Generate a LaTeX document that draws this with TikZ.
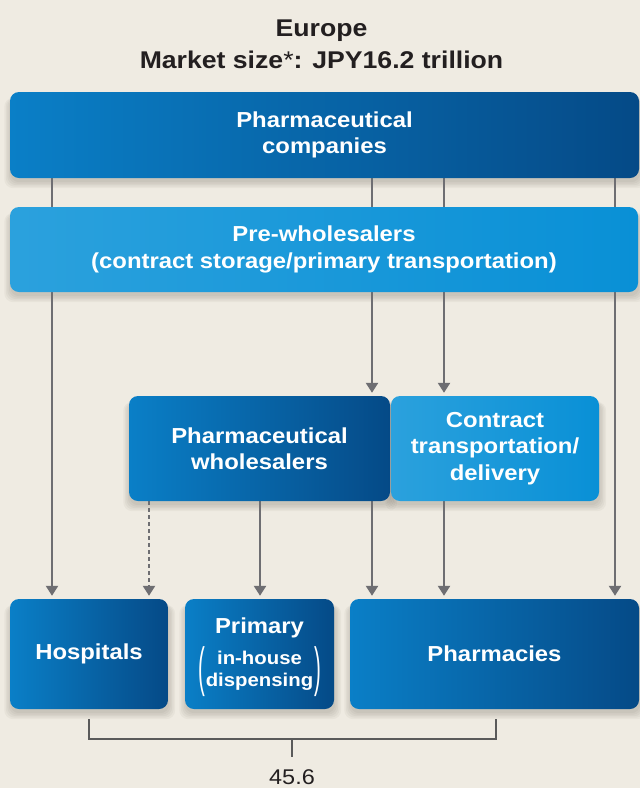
\documentclass[tikz,border=0pt]{standalone}
\usepackage{fontspec}
\usepackage{graphicx}
\setmainfont{Liberation Sans}[FakeStretch=1.1]
\usetikzlibrary{arrows.meta}

\definecolor{paper}{RGB}{239,235,226}
\definecolor{ink}{RGB}{35,31,32}
\definecolor{deepL}{RGB}{10,127,199}
\definecolor{deepR}{RGB}{5,74,135}
\definecolor{paleL}{RGB}{43,161,221}
\definecolor{paleR}{RGB}{9,144,214}
\definecolor{linkgray}{RGB}{110,110,114}
\definecolor{bracegray}{RGB}{90,90,90}
\definecolor{shadecol}{RGB}{60,50,40}

\pgfdeclarelayer{bg}
\pgfdeclarelayer{shade}
\pgfdeclarelayer{links}
\pgfsetlayers{bg,shade,links,main}

% tall thin parenthesis for the bracketed sub-label
\newcommand{\tallparen}[1]{\raisebox{-9.6pt}{\scalebox{1}[2.9]{\mdseries #1}}}

% soft shadow under a named box, built from widening translucent layers
\newcommand{\softshadow}[1]{%
  \begin{pgfonlayer}{shade}
    \foreach \k in {0,3,6,9,12}{
      \fill[shadecol, opacity=0.045, rounded corners=9pt]
        ([xshift={-0.5*\k*1pt+0.5pt}, yshift={-4pt-0.5*\k*1pt}]#1.south west)
        rectangle ([xshift={0.5*\k*1pt+1pt}, yshift=-6pt]#1.north east);
    }
  \end{pgfonlayer}}

\begin{document}
\begin{tikzpicture}[x=1pt,y=-1pt,
  box/.style={rounded corners=9pt, inner sep=0pt, align=center, text=white,
    font=\bfseries\fontsize{21.7}{26.5}\selectfont},
  deep/.style={box, left color=deepL, right color=deepR},
  pale/.style={box, left color=paleL, right color=paleR},
  link/.style={draw=linkgray, line width=2.4pt, -{Triangle[length=10pt,width=12pt]}, shorten >=3pt},
  dlink/.style={link, dash pattern=on 4pt off 3pt},
  brace/.style={draw=bracegray, line width=1.2pt},
  title/.style={font=\bfseries\fontsize{24.2}{32}\selectfont, text=ink, align=center}]

\begin{pgfonlayer}{bg}
  \fill[paper] (0,0) rectangle (640,788);
\end{pgfonlayer}
\useasboundingbox (0,0) rectangle (640,788);

% heading
\node[title] (head) at (321.5,44) {Europe\\Market size{\mdseries*}: JPY16.2 trillion};

% supply side
\node[deep, minimum width=629, minimum height=86] (comp) at (324.5,135) {Pharmaceutical\\companies};
\node[pale, minimum width=628, minimum height=85] (pre) at (324,249.5) {Pre-wholesalers\\(contract storage/primary transportation)};

% intermediaries
\node[deep, minimum width=261, minimum height=105] (whol) at (259.5,448.5) {Pharmaceutical\\wholesalers};
\node[pale, minimum width=208, minimum height=105] (contr) at (495,448.5) {Contract\\transportation/\\delivery};

% dispensing points
\node[deep, minimum width=158, minimum height=110] (hosp) at (89,654) {Hospitals};
\node[deep, minimum width=149, minimum height=110] (prim) at (259.5,654) {};
\node[align=center, text=white, inner sep=0pt, font=\bfseries\fontsize{21.7}{26.5}\selectfont] (primtxt) at (259.5,657)
  {Primary\\[8pt]{\fontsize{18.5}{22}\selectfont\tallparen{(}\hspace{1pt}\begin{tabular}[c]{@{}c@{}}in-house\\dispensing\end{tabular}\hspace{1pt}\tallparen{)}}};
\node[deep, minimum width=289, minimum height=110] (pharm) at (494.5,654) {Pharmacies};

\softshadow{comp}
\softshadow{pre}
\softshadow{whol}
\softshadow{contr}
\softshadow{hosp}
\softshadow{prim}
\softshadow{pharm}

% columns of the flow lines
\coordinate (colH) at (52,0);
\coordinate (colD) at (149,0);
\coordinate (colP) at (260,0);
\coordinate (colW) at (372,0);
\coordinate (colC) at (444,0);
\coordinate (colR) at (615,0);

\begin{pgfonlayer}{links}
  \draw[link] (comp.south -| colH) -- (hosp.north -| colH);
  \draw[link] (comp.south -| colW) -- (whol.north -| colW);
  \draw[link] (comp.south -| colC) -- (contr.north -| colC);
  \draw[link] (comp.south -| colR) -- (pharm.north -| colR);
  \draw[dlink] (whol.south -| colD) -- (hosp.north -| colD);
  \draw[link] (whol.south -| colP) -- (prim.north -| colP);
  \draw[link] (whol.south -| colW) -- (pharm.north -| colW);
  \draw[link] (contr.south -| colC) -- (pharm.north -| colC);
\end{pgfonlayer}

% total bracket
\coordinate (bl) at (89,719);
\coordinate (br) at (496,719);
\coordinate (bm) at (292,739);
\draw[brace] (bl) |- (bm) -| (br);
\node[font=\fontsize{21.3}{24}\selectfont, text=ink, inner sep=0pt] (total) at (292,777) {45.6};
\draw[brace] (bm) -- (total.north |- 0,757);

\end{tikzpicture}
\end{document}
